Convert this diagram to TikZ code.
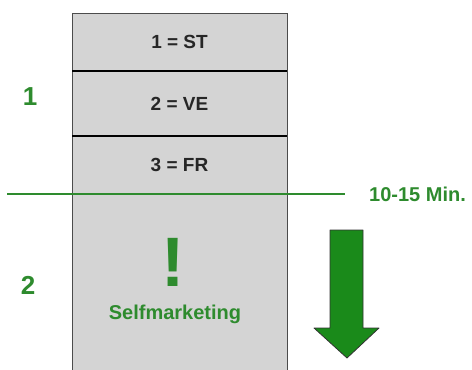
\documentclass[tikz,border=0pt]{standalone}
\usepackage{fontspec}
\setmainfont{Liberation Sans}
\usetikzlibrary{positioning}
\definecolor{boxgray}{HTML}{D4D4D4}
\definecolor{mygreen}{HTML}{2E8B2E}
\definecolor{arrowgreen}{HTML}{1A8A1A}
\begin{document}
\begin{tikzpicture}[x=1pt,y=1pt,
            section/.style={fill=boxgray,minimum width=215pt,outer sep=0pt,inner sep=0pt,text=black!85,font=\bfseries\fontsize{19}{21}\selectfont},
            phase/.style={text=mygreen,font=\bfseries\fontsize{26}{28}\selectfont},
            greentext/.style={text=mygreen,font=\bfseries\fontsize{20}{23}\selectfont}]
            \useasboundingbox (0,0) rectangle (472,-370);
            \node [section,minimum height=58pt] (st) at (179.5,-42) {1 = ST};
            \node [section,minimum height=65pt,below=0pt of st] (ve) {2 = VE};
            \node [section,minimum height=240pt,below=0pt of ve] (fr) {};
            \node [section,fill=none] (frtext) at (179.5,-165) {3 = FR};
            \draw[black!70,line width=1pt] (fr.south west)--(st.north west)--(st.north east)--(fr.south east);
            \draw[black,line width=1.6pt] (st.south west)--(st.south east);
            \draw[black,line width=1.6pt] (ve.south west)--(ve.south east);
            % phases
            \node [phase] (one) at (30,-97) {1};
            \node [phase] (two) at (28,-285) {2};
            % time mark
            \coordinate (lineL) at (7,-194);
            \coordinate (lineR) at (345,-194);
            \node [greentext,anchor=west,inner sep=0pt] (minutes) at (369,-194) {10-15 Min.};
            \draw[mygreen,line width=1.8pt] (lineL)--(lineR);
            % selfmarketing
            \node [text=mygreen,font=\bfseries\fontsize{70}{72}\selectfont] (bang) at (173,-262) {!};
            \node [greentext] (selfm) at (175,-314) {Selfmarketing};
            \draw[fill=arrowgreen,draw=black!80,line width=0.8pt,line join=round]
                (330,-230)--(363,-230)--(363,-328)--(379,-328)--(347,-358)--(314,-328)--(330,-328)--cycle;
            \end{tikzpicture}
\end{document}
